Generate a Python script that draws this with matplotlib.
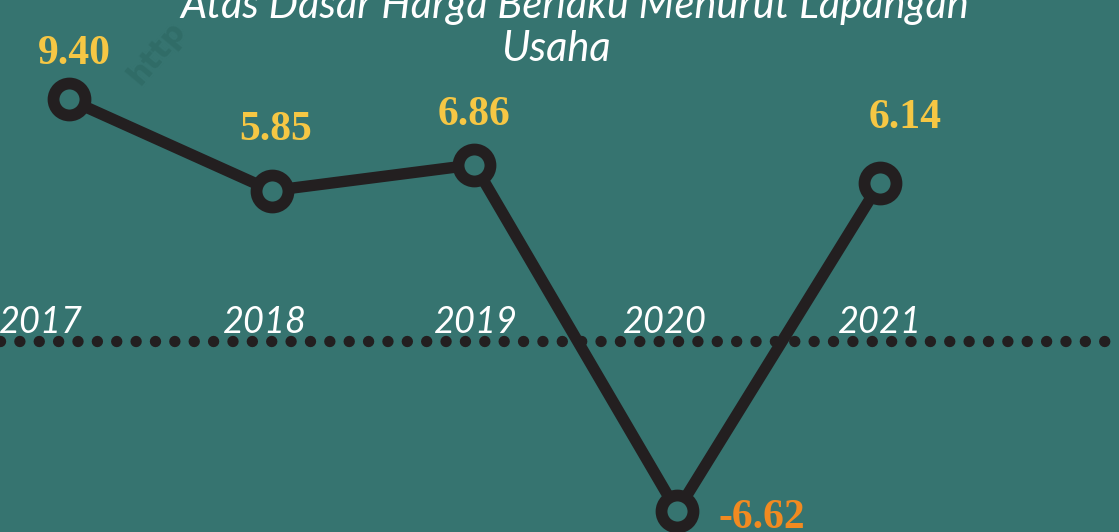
### ------------------------------ Imports ------------------------------ ###

import matplotlib
matplotlib.use("Agg")
import matplotlib.pyplot as plt

### ------------------------------ Data ------------------------------ ###

years = ["2017", "2018", "2019", "2020", "2021"]
growth = [9.40, 5.85, 6.86, -6.62, 6.14]  # laju pertumbuhan (%)
value_labels = ["9.40", "5.85", "6.86", "-6.62", "6.14"]
title_line1 = "Atas Dasar Harga Berlaku Menurut Lapangan"
title_line2 = "Usaha"

### ------------------------------ Colours ------------------------------ ###

bg = "#367470"
dark = "#231f20"
yellow = "#f6c744"
orange = "#f28a20"

### ------------------------------ Figure ------------------------------ ###

fig = plt.figure(figsize=(11.19, 5.32), dpi=100)
fig.patch.set_facecolor(bg)
ax = fig.add_axes([0, 0, 1, 1])
ax.set_facecolor(bg)
ax.axis("off")

x = list(range(len(years)))
ax.set_xlim(-0.34, 5.18)
ax.set_ylim(-7.43, 13.27)

# faint watermark in the top-left corner
fig.text(0.14, 0.90, "http", rotation=50, fontsize=22, fontweight="bold",
         color="#306c67", ha="center", va="center", family="DejaVu Sans")

# dotted zero line
ax.plot([-0.34, 5.18], [0, 0], color=dark, lw=8.2,
        linestyle=(0, (0.001, 1.7)), dash_capstyle="round", zorder=1)

# main line with ring markers
ax.plot(x, growth, color=dark, lw=8.2, solid_capstyle="round", zorder=2)
ax.plot(x, growth, linestyle="none", marker="o", markersize=23,
        markerfacecolor=bg, markeredgecolor=dark, markeredgewidth=8.5, zorder=3)

# value labels (offsets in points)
label_offsets = [(3.6, 33), (2.9, 44), (0, 36), (61, -5), (18, 47)]
for xi, v, txt, off in zip(x, growth, value_labels, label_offsets):
    ax.annotate(txt, (xi, v), xytext=off, textcoords="offset points",
                ha="center", va="center", fontsize=30, fontweight="bold",
                family="Liberation Serif",
                color=orange if v < 0 else yellow, zorder=4)

# year labels sitting on the zero line
year_offsets = [-20, -5, 1, -9, 0]
for xi, yr, dx in zip(x, years, year_offsets):
    ax.annotate(yr, (xi, 0), xytext=(dx, 6), textcoords="offset points",
                ha="center", va="baseline", fontsize=26, style="italic",
                family="Lato", color="white", zorder=4)

# title (top line is cut off by the frame)
fig.text(0.514, 0.966, title_line1, ha="center", va="baseline", fontsize=30,
         style="italic", family="Lato", color="white")
fig.text(0.497, 0.885, title_line2, ha="center", va="baseline", fontsize=30,
         style="italic", family="Lato", color="white")

fig.savefig("out.png", dpi=100, facecolor=bg)
